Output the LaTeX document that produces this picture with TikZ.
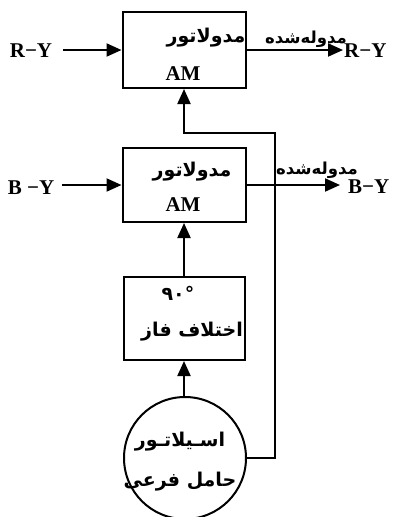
\documentclass[tikz,border=0pt]{standalone}
\usepackage{fontspec}
\setmainfont{Liberation Serif}
\newfontfamily\arabicfont[Script=Arabic]{DejaVu Sans}
\TeXXeTstate=1
\usetikzlibrary{calc,arrows.meta}

\begin{document}
\begin{tikzpicture}[x=1pt,y=-1pt,
  block/.style={rectangle,draw,line width=2,minimum width=123,minimum height=76,inner sep=0},
  signal/.style={-{Triangle[length=15,width=13]},line width=2},
  latin/.style={font=\fontsize{21}{24}\selectfont\bfseries,inner sep=0},
  farsi/.style={font=\fontsize{19}{22}\selectfont\arabicfont\bfseries,inner sep=0},
  tag/.style={font=\fontsize{16.5}{20}\selectfont\arabicfont\bfseries,inner sep=0}]

\useasboundingbox (0,0) rectangle (394,517);

% blocks
\node [block] (mod_ry) at (184,50) {};
\node [block,minimum height=74] (mod_by) at (184,185) {};
\node [block,minimum width=121,minimum height=83] (phase) at (184,318.5) {};
\node [circle,draw,line width=2,minimum size=122,inner sep=0] (osc) at (185,458) {};

% texts inside
\node [farsi,anchor=east] (ry_name) at ($(mod_ry.north east)+(-1,27)$) {\beginR مدولاتور\endR};
\node [latin] (ry_am) at ($(mod_ry.center)+(-1,24)$) {AM};
\node [farsi] (by_name) at (192,172) {\beginR مدولاتور\endR};
\node [latin] (by_am) at (183,205) {AM};
\node [farsi] (phase_deg) at (178,293) {۹۰°};
\node [farsi] (phase_name) at (192,332) {\beginR اختلاف فاز\endR};
\node [farsi] (osc_name) at (180,442) {\beginR اسـیلاتـور\endR};
\node [farsi] (osc_sub) at (180,482) {\beginR حامل فرعی\endR};

% R-Y channel
\node [latin] (ry_in) at (31,51) {R−Y};
\coordinate (ry_src) at (63,50);
\coordinate (ry_dst) at (343,50);
\node [latin,anchor=west] (ry_out) at ($(ry_dst)+(1,1)$) {R−Y};
\node [tag] (ry_tag) at (306,39) {\beginR مدوله‌شده\endR};
\draw [signal] (ry_src) -- (mod_ry.west);
\draw [signal] (mod_ry.east) -- (ry_dst);

% B-Y channel
\node [latin] (by_in) at (31,188) {B −Y};
\coordinate (by_src) at (62,185);
\coordinate (by_dst) at (340,185);
\node [latin,anchor=west] (by_out) at ($(by_dst)+(8,2)$) {B−Y};
\node [tag] (by_tag) at (317,170) {\beginR مدوله‌شده\endR};
\draw [signal] (by_src) -- (mod_by.west);
\draw [signal] (mod_by.east) -- (by_dst);

% carrier path
\coordinate (fb_turn) at (275,133);
\draw [signal] (osc.north -| phase.south) -- (phase);
\draw [signal] (phase) -- (mod_by);
\draw [signal] (osc.east) -| (fb_turn) -| (mod_ry.south);

\end{tikzpicture}
\end{document}
